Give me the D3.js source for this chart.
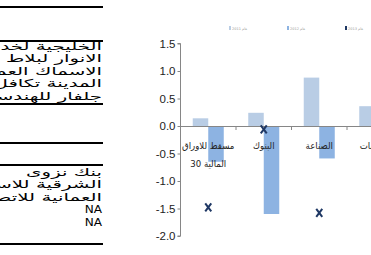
<!DOCTYPE html>
<html>
<head>
<meta charset="utf-8">
<script src="https://cdn.jsdelivr.net/npm/d3@7"></script>
<style>
  body { margin: 0; background: #fff; }
  svg { display: block; }
</style>
</head>
<body>
<svg width="371" height="255"></svg>
<script>
var WIDTH = 371;
var HEIGHT = 255;

// table on the left (clipped by the page edge, as in the original)
var gainers = ['الخليجية لخدمات الاستثمار', 'الانوار لبلاط السيراميك', 'الاسماك العمانية', 'المدينة تكافل', 'جلفار للهندسة'];
var losers = ['بنك نزوى', 'الشرقية للاستثمار', 'العمانية للاتصالات', 'NA', 'NA'];

// chart data
var categories = ['مسقط للاوراق|المالية 30', 'البنوك', 'الصناعة', 'الخدمات'];
var series1 = [0.14, 0.24, 0.88, 0.36];
var series2 = [-0.65, -1.6, -0.59, -0.3];
var series3 = [-1.48, -0.06, -1.58, -0.9];
var legendLabels = ['2011 عام', '2012 عام', '2013 عام'];
var yTicks = [1.5, 1.0, 0.5, 0.0, -0.5, -1.0, -1.5, -2.0];

var colors = ['#b9cde5', '#8db3e2', '#1f3864'];

var svg = d3.select('svg')
    .attr('width', WIDTH)
    .attr('height', HEIGHT);

// ---- table ----
var table = svg.append('g');
var rules = [7, 41, 104, 143, 165, 244];
table.selectAll('line.rule')
    .data(rules)
    .enter()
    .append('line')
    .attr('x1', 0).attr('x2', 103)
    .attr('y1', function(d) { return d; })
    .attr('y2', function(d) { return d; })
    .attr('stroke', '#000')
    .attr('stroke-width', 2);

function rows(list, top) {
    table.selectAll(null)
        .data(list)
        .enter()
        .append('text')
        .attr('transform', function(d, i) {
            var sx = d === 'NA' ? 1.1 : 1.8;
            return 'translate(102,' + (top + i * 12.4) + ') scale(' + sx + ',1)';
        })
        .attr('text-anchor', 'end')
        .attr('font-family', 'DejaVu Sans, sans-serif')
        .attr('font-size', 11)
        .attr('fill', '#000')
        .text(function(d) { return d; });
}
rows(gainers, 50);
rows(losers, 176);

// ---- chart ----
var y = d3.scaleLinear()
    .domain([-2, 1.5])
    .range([236, 43.5]);

var x = d3.scaleBand()
    .domain(categories)
    .range([180.5, 180.5 + 55.5 * categories.length])
    .padding(0);

var inner = d3.scaleBand()
    .domain([0, 1])
    .range([0, x.bandwidth()])
    .paddingInner(0)
    .paddingOuter(0.79);

var chart = svg.append('g');

// bars
[series1, series2].forEach(function(values, s) {
    chart.selectAll(null)
        .data(values)
        .enter()
        .append('rect')
        .attr('x', function(d, i) { return x(categories[i]) + inner(s); })
        .attr('width', inner.bandwidth())
        .attr('y', function(d) { return y(Math.max(0, d)); })
        .attr('height', function(d) { return Math.abs(y(d) - y(0)); })
        .attr('fill', colors[s]);
});

// y axis
var yAxis = chart.append('g')
    .attr('transform', 'translate(180.5,0)')
    .call(d3.axisLeft(y)
        .tickValues(yTicks)
        .tickSize(3)
        .tickFormat(function(d) { return d.toFixed(1); }));
yAxis.select('.domain').attr('stroke', '#868686').attr('d', 'M-3,43.5H0V236H-3');
yAxis.selectAll('.tick line').attr('stroke', '#868686');
yAxis.selectAll('.tick text')
    .attr('x', -5)
    .attr('fill', '#222')
    .attr('font-family', 'Liberation Sans Narrow, Arial Narrow, sans-serif')
    .attr('font-size', 11.5);

// x axis line at zero, ticks at category boundaries
chart.append('line')
    .attr('x1', 180.5).attr('x2', WIDTH)
    .attr('y1', y(0) + 0.5).attr('y2', y(0) + 0.5)
    .attr('stroke', '#868686');
chart.selectAll('line.xtick')
    .data(categories.slice(1))
    .enter()
    .append('line')
    .attr('x1', function(d) { return x(d); })
    .attr('x2', function(d) { return x(d); })
    .attr('y1', y(0)).attr('y2', y(0) + 4)
    .attr('stroke', '#868686');

// category labels
var labels = chart.selectAll('text.cat')
    .data(categories)
    .enter()
    .append('text')
    .attr('text-anchor', 'middle')
    .attr('font-family', 'DejaVu Sans Condensed, DejaVu Sans, sans-serif')
    .attr('font-size', 9.5)
    .attr('fill', '#222')
    .attr('y', 149);
labels.selectAll('tspan')
    .data(function(d) { return d.split('|').map(function(t) { return { t: t, c: d }; }); })
    .enter()
    .append('tspan')
    .attr('x', function(d) { return x(d.c) + x.bandwidth() / 2; })
    .attr('dy', function(d, i) { return i === 0 ? 0 : 18; })
    .text(function(d) { return d.t; });

// markers (X)
chart.selectAll('path.mark')
    .data(series3)
    .enter()
    .append('path')
    .attr('transform', function(d, i) {
        return 'translate(' + (x(categories[i]) + x.bandwidth() / 2) + ',' + y(d) + ')';
    })
    .attr('d', 'M-3,-4L3,4M3,-4L-3,4')
    .attr('stroke', colors[2])
    .attr('stroke-width', 2)
    .attr('fill', 'none');

// legend (tiny)
var legendX = [229, 287, 345];
var legend = chart.selectAll('g.legend')
    .data(legendLabels)
    .enter()
    .append('g')
    .attr('transform', function(d, i) { return 'translate(' + legendX[i] + ',26)'; });
legend.append('rect')
    .attr('width', 2).attr('height', 4)
    .attr('fill', function(d, i) { return colors[i]; });
legend.append('text')
    .attr('x', 3).attr('y', 3.5)
    .attr('font-family', 'DejaVu Sans, sans-serif')
    .attr('font-size', 3.5)
    .attr('fill', '#999')
    .text(function(d) { return d; });
</script>
</body>
</html>
